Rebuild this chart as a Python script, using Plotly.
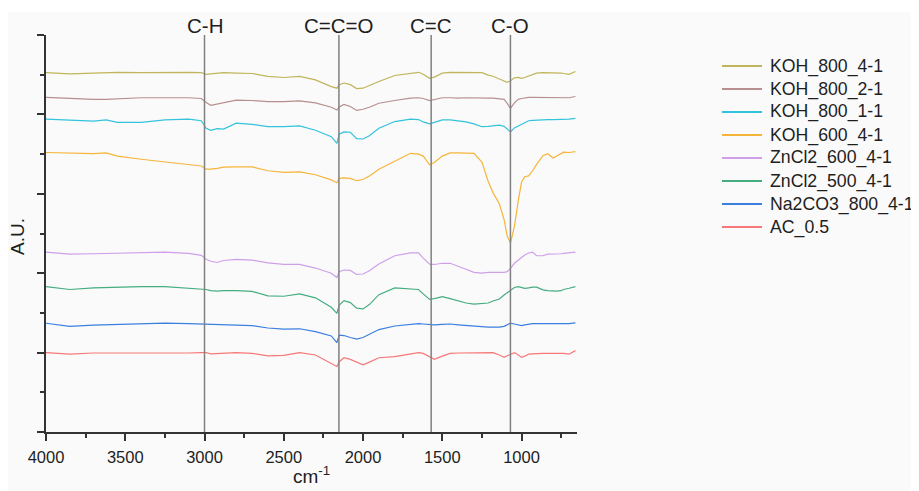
import plotly.graph_objects as go

# Wavenumber grid (cm-1) shared by all spectra
wavenumber = [4000, 3850, 3700, 3620, 3550, 3400, 3250, 3100, 3020, 2990, 2960, 2920, 2880,
              2800, 2700, 2600, 2500, 2400, 2300, 2200, 2165, 2150, 2120, 2080, 2040, 2000,
              1960, 1900, 1800, 1700, 1650, 1620, 1580, 1550, 1500, 1450, 1400, 1350, 1300,
              1250, 1210, 1180, 1140, 1110, 1090, 1070, 1045, 1020, 1000, 980, 955, 930, 905,
              865, 835, 800, 780, 750, 735, 700, 660]

koh_800_4_1 = [90.5, 90.2, 90.4, 90.5, 90.6, 90.5, 90.6, 90.6, 90.5, 90.1, 90.2, 90.4, 90.5,
               90.4, 90.3, 89.6, 89.3, 89.6, 88.7, 87.0, 86.6, 87.5, 87.9, 87.5, 86.5, 86.6,
               87.3, 88.3, 89.8, 90.4, 90.6, 90.1, 89.1, 89.4, 90.4, 90.6, 90.6, 90.6, 90.6,
               90.5, 89.9, 89.6, 88.9, 88.5, 88.1, 88.4, 89.2, 89.3, 89.1, 89.3, 89.7, 90.1, 90.4,
               90.5, 90.5, 90.4, 90.4, 90.4, 90.3, 90.1, 90.8]

koh_800_2_1 = [84.3, 84.0, 83.8, 83.8, 83.9, 84.2, 84.2, 84.2, 84.0, 83.0, 82.3, 82.6, 83.0,
               83.6, 83.5, 83.2, 83.2, 83.4, 82.9, 81.8, 81.1, 81.9, 82.5, 82.0, 81.0, 81.3,
               81.8, 82.8, 83.5, 84.1, 84.2, 84.0, 83.5, 83.7, 84.2, 84.2, 84.1, 84.2, 84.1,
               84.1, 84.1, 84.1, 84.0, 83.8, 82.8, 81.5, 82.9, 83.8, 84.0, 84.2, 84.3, 84.3, 84.3,
               84.3, 84.3, 84.3, 84.3, 84.3, 84.3, 84.2, 84.5]

koh_800_1_1 = [78.8, 78.6, 78.3, 78.6, 78.0, 78.0, 78.6, 78.8, 78.4, 76.5, 76.0, 76.4, 76.3,
               77.8, 77.5, 76.9, 76.9, 77.1, 76.0, 74.4, 72.7, 75.0, 75.6, 75.5, 73.9, 73.8,
               74.6, 76.5, 78.2, 78.8, 78.7, 78.1, 77.6, 78.0, 78.6, 78.6, 78.3, 78.1, 77.6,
               76.9, 77.0, 77.2, 77.3, 77.0, 76.3, 75.6, 76.6, 77.1, 77.6, 78.1, 78.4, 78.5, 78.6,
               78.7, 78.7, 78.7, 78.7, 78.8, 78.8, 78.8, 79.0]

koh_600_4_1 = [70.4, 70.2, 70.1, 70.3, 69.5, 68.7, 68.1, 67.4, 67.0, 66.2, 66.2, 66.4, 66.7,
               66.8, 66.8, 65.8, 65.4, 65.5, 64.8, 63.5, 62.8, 63.9, 64.0, 63.9, 63.3, 63.6,
               64.5, 66.2, 68.1, 70.2, 70.0, 69.5, 67.3, 67.9, 69.5, 70.3, 70.3, 70.3, 70.2,
               68.0, 63.1, 60.3, 57.5, 53.5, 49.3, 47.6, 51.7, 58.4, 62.9, 64.3, 64.5, 65.8, 67.4,
               69.6, 70.1, 69.0, 69.5, 70.3, 70.5, 70.4, 70.6]

zncl2_600_4_1 = [45.3, 44.8, 44.9, 45.0, 45.1, 45.3, 45.3, 45.0, 44.5, 43.5, 43.0, 42.7, 43.2,
                 43.5, 43.3, 42.6, 42.2, 42.2, 41.3, 40.0, 38.9, 40.4, 40.8, 40.7, 39.7, 39.8,
                 40.6, 42.3, 44.4, 45.1, 45.1, 43.8, 42.3, 42.2, 42.5, 42.5, 41.8, 41.0, 40.2,
                 40.0, 40.2, 40.2, 40.1, 40.2, 40.4, 41.2, 42.5, 43.4, 44.1, 44.6, 45.1, 45.3, 44.4,
                 44.4, 44.8, 44.8, 44.8, 44.9, 45.0, 45.1, 45.3]

zncl2_500_4_1 = [36.6, 35.9, 36.3, 36.4, 36.5, 36.6, 36.6, 36.3, 36.0, 35.9, 35.6, 35.5, 35.6,
                 35.6, 35.4, 34.3, 34.2, 34.8, 33.8, 31.4, 29.9, 32.0, 33.1, 32.6, 31.2, 31.0,
                 32.1, 34.6, 36.3, 36.0, 35.9, 34.8, 33.4, 33.6, 34.1, 33.6, 33.0, 32.5, 32.2,
                 32.3, 32.5, 33.0, 33.5, 34.5, 35.1, 35.8, 36.4, 36.6, 36.4, 36.2, 36.3, 36.5, 36.5,
                 35.8, 35.6, 35.5, 35.5, 35.6, 35.9, 36.2, 36.6]

na2co3_800_4_1 = [27.4, 26.6, 26.9, 27.0, 27.1, 27.4, 27.4, 27.3, 27.2, 27.2, 27.1, 27.0, 27.0,
                  26.9, 26.8, 26.2, 25.9, 26.0, 25.3, 24.2, 22.5, 24.4, 24.3, 23.8, 23.4, 23.8,
                  24.6, 25.8, 26.7, 27.2, 27.3, 27.2, 27.0, 27.0, 27.1, 27.2, 27.0, 26.8, 26.6,
                  26.5, 26.4, 26.4, 26.4, 26.6, 27.0, 27.4, 27.2, 26.9, 26.8, 27.0, 27.2, 27.3, 27.3,
                  27.3, 27.3, 27.3, 27.3, 27.3, 27.3, 27.3, 27.5]

ac_0_5 = [20.0, 19.6, 19.9, 19.9, 19.8, 19.8, 19.8, 19.9, 20.0, 20.0, 19.7, 19.8, 19.9,
          20.0, 19.8, 19.2, 19.3, 20.0, 19.4, 17.4, 16.5, 17.7, 18.7, 18.3, 17.6, 16.9,
          17.6, 18.7, 19.0, 19.6, 20.0, 19.8, 19.0, 18.3, 19.1, 19.8, 19.9, 19.9, 19.9,
          19.9, 20.0, 20.0, 19.4, 18.8, 19.2, 19.6, 20.0, 19.4, 18.8, 19.1, 19.6, 19.7, 19.8,
          19.8, 19.8, 19.8, 19.8, 19.8, 19.8, 19.6, 20.5]

series_names = ["KOH_800_4-1", "KOH_800_2-1", "KOH_800_1-1", "KOH_600_4-1",
                "ZnCl2_600_4-1", "ZnCl2_500_4-1", "Na2CO3_800_4-1", "AC_0.5"]
series_values = [koh_800_4_1, koh_800_2_1, koh_800_1_1, koh_600_4_1,
                 zncl2_600_4_1, zncl2_500_4_1, na2co3_800_4_1, ac_0_5]
series_colors = ["#c0b55a", "#b88f8f", "#33c3dc", "#f5b53a",
                 "#cf9fea", "#45ad80", "#3b7fe0", "#f77878"]

band_positions = [3000, 2152, 1570, 1070]
band_labels = ["C-H", "C=C=O", "C=C", "C-O"]

FONT = "Liberation Sans, Arial, sans-serif"
TXT = "#1e1e1e"

# plot area: 531 px wide, 397 px tall
PW, PH = 531.0, 397.0

fig = go.Figure()
for name, vals, col in zip(series_names, series_values, series_colors):
    fig.add_trace(go.Scatter(x=wavenumber, y=vals, mode="lines", name=name,
                             line=dict(color=col, width=1.2), showlegend=False))

shapes = [dict(type="rect", xref="paper", yref="paper", x0=-38 / PW, x1=(908 - 38) / PW,
               y0=-0.3, y1=1 + 23 / PH, fillcolor="#fafafa", line=dict(width=0), layer="below"),
          # small overshoot of the x axis line to the left of the y axis
          dict(type="line", xref="paper", yref="paper", x0=-8 / PW, x1=0, y0=0, y1=0,
               line=dict(color="#333", width=1.6))]
annotations = []
for wn, lab in zip(band_positions, band_labels):
    shapes.append(dict(type="line", xref="x", yref="paper", x0=wn, x1=wn, y0=0, y1=1,
                       line=dict(color="#808080", width=1.5), layer="above"))
    annotations.append(dict(x=wn, xref="x", y=1 + 9 / PH, yref="paper", text=lab, showarrow=False,
                            xanchor="center", yanchor="middle",
                            font=dict(family=FONT, size=20.5, color=TXT)))

# manual legend (line sample + label per series)
for i, (name, col) in enumerate(zip(series_names, series_colors)):
    ypix = 66 + 23 * i - 35  # pixels below plot top
    yp = 1 - ypix / PH
    shapes.append(dict(type="line", xref="paper", yref="paper", x0=(722 - 46) / PW,
                       x1=(762 - 46) / PW, y0=yp, y1=yp, line=dict(color=col, width=2)))
    annotations.append(dict(x=(768 - 46) / PW, xref="paper", y=yp, yref="paper", text=name,
                            showarrow=False, xanchor="left", yanchor="middle",
                            font=dict(family=FONT, size=17.7, color=TXT)))

annotations.append(dict(x=-28 / PW, xref="paper", y=(432 - 237) / PH, yref="paper", text="A.U.",
                        showarrow=False, textangle=-90, xanchor="center", yanchor="middle",
                        font=dict(family=FONT, size=19, color=TXT)))
annotations.append(dict(x=(311 - 46) / PW, xref="paper", y=-43 / PH, yref="paper",
                        text="cm<sup>-1</sup>",
                        showarrow=False, xanchor="center", yanchor="middle",
                        font=dict(family=FONT, size=19, color=TXT)))

fig.update_layout(
    width=911, height=483,
    margin=dict(l=38, r=342, t=27, b=59, autoexpand=False),
    paper_bgcolor="white", plot_bgcolor="rgba(0,0,0,0)",
    showlegend=False,
    shapes=shapes, annotations=annotations,
    font=dict(family=FONT, color=TXT),
)
fig.update_xaxes(range=[4000, 650], tick0=0, dtick=500, ticks="outside", ticklen=7,
                 tickwidth=1.5, tickcolor="#333", showline=True, linecolor="#333", linewidth=1.6,
                 showgrid=False, zeroline=False, ticklabelstandoff=2,
                 tickfont=dict(family=FONT, size=16.5, color=TXT),
                 minor=dict(dtick=250, ticks="outside", ticklen=4, tickwidth=1.5, tickcolor="#333",
                            showgrid=False))
fig.update_yaxes(range=[0, 100], dtick=20, ticks="outside", ticklen=7, tickwidth=1.5,
                 tickcolor="#333", showline=True, linecolor="#333", linewidth=1.6,
                 showgrid=False, zeroline=False, showticklabels=False,
                 minor=dict(dtick=10, ticks="outside", ticklen=4, tickwidth=1.5, tickcolor="#333",
                            showgrid=False))

fig.write_html("out.html")
